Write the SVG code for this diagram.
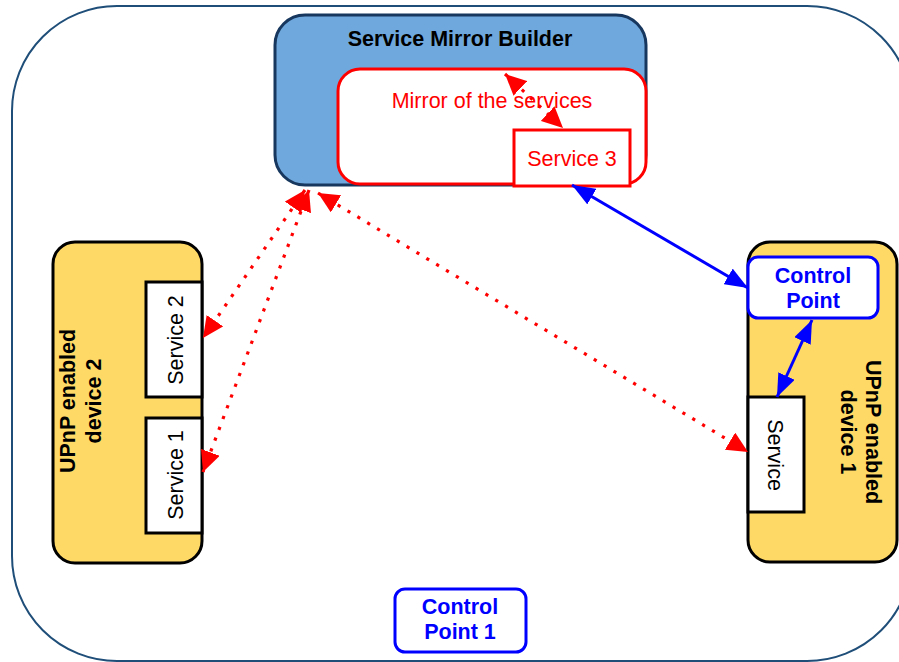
<svg xmlns="http://www.w3.org/2000/svg" width="899" height="662" viewBox="0 0 899 662">
  <style>
    text { font-family: "Liberation Sans", Arial, sans-serif; font-size: 21.5px; }
    .bold { font-weight: bold; }
    .frame { fill: #ffffff; stroke: #1f4e79; stroke-width: 2; }
    .builder { fill: #6fa8dc; stroke: #17375e; stroke-width: 3; }
    .mirror { fill: #ffffff; stroke: #ff0000; stroke-width: 3; }
    .device { fill: #ffd966; stroke: #000000; stroke-width: 3; }
    .svc { fill: #ffffff; stroke: #000000; stroke-width: 3; }
    .cp { fill: #ffffff; stroke: #0000ff; stroke-width: 3; }
    .red-text { fill: #ff0000; }
    .blue-text { fill: #0000ff; }
    .dotted { fill: none; stroke: #ff0000; stroke-width: 3.2; stroke-dasharray: 3.2 8.3; marker-start: url(#redHead); marker-end: url(#redHead); }
    .solid { fill: none; stroke: #0000ff; stroke-width: 3; marker-start: url(#blueHead); marker-end: url(#blueHead); }
  </style>
  <defs>
    <marker id="redHead" markerUnits="userSpaceOnUse" markerWidth="22" markerHeight="20" refX="21" refY="10" orient="auto-start-reverse">
      <path d="M0,0 L21,10 L0,20 z" fill="#ff0000"/>
    </marker>
    <marker id="blueHead" markerUnits="userSpaceOnUse" markerWidth="24" markerHeight="18" refX="23" refY="9" orient="auto-start-reverse">
      <path d="M0,0 L23,9 L0,18 z" fill="#0000ff"/>
    </marker>
  </defs>

  <!-- outer boundary -->
  <rect id="frame" class="frame" x="12" y="6" width="900" height="655" rx="105" ry="105"/>

  <!-- builder with its mirror of services -->
  <g id="service-mirror-builder">
    <rect class="builder" x="275" y="15" width="371" height="170" rx="30" ry="30"/>
    <text class="bold" x="460" y="46" text-anchor="middle">Service Mirror Builder</text>
  </g>
  <g id="mirror-of-services">
    <rect class="mirror" x="338" y="69" width="308" height="115" rx="22" ry="22"/>
    <text class="red-text" x="492" y="108" text-anchor="middle">Mirror of the services</text>
  </g>
  <g id="service-3">
    <rect class="mirror" x="514" y="130" width="116" height="56"/>
    <text class="red-text" x="572" y="166" text-anchor="middle">Service 3</text>
  </g>

  <!-- device 2 -->
  <g id="device-2">
    <rect class="device" x="53" y="242" width="149" height="321" rx="22" ry="22"/>
    <text class="bold" transform="translate(75,401) rotate(-90)" text-anchor="middle">UPnP enabled</text>
    <text class="bold" transform="translate(101,401) rotate(-90)" text-anchor="middle">device 2</text>
  </g>
  <g id="device-2-service-2">
    <rect class="svc" x="146" y="282" width="56" height="115"/>
    <text transform="translate(183,340) rotate(-90)" text-anchor="middle">Service 2</text>
  </g>
  <g id="device-2-service-1">
    <rect class="svc" x="146" y="418" width="56" height="115"/>
    <text transform="translate(183,475) rotate(-90)" text-anchor="middle">Service 1</text>
  </g>

  <!-- device 1 -->
  <g id="device-1">
    <rect class="device" x="748" y="242" width="149" height="320" rx="22" ry="22"/>
    <text class="bold" transform="translate(866,432) rotate(90)" text-anchor="middle">UPnP enabled</text>
    <text class="bold" transform="translate(841,432) rotate(90)" text-anchor="middle">device 1</text>
  </g>
  <g id="device-1-control-point">
    <rect class="cp" x="748" y="257" width="130" height="61" rx="10" ry="10"/>
    <text class="bold blue-text" x="813" y="283" text-anchor="middle">Control</text>
    <text class="bold blue-text" x="813" y="308" text-anchor="middle">Point</text>
  </g>
  <g id="device-1-service">
    <rect class="svc" x="748" y="397" width="56" height="115"/>
    <text transform="translate(768,455) rotate(90)" text-anchor="middle">Service</text>
  </g>

  <!-- standalone control point -->
  <g id="control-point-1">
    <rect class="cp" x="395" y="589" width="131" height="63" rx="10" ry="10"/>
    <text class="bold blue-text" x="460" y="614" text-anchor="middle">Control</text>
    <text class="bold blue-text" x="460" y="639" text-anchor="middle">Point 1</text>
  </g>

  <!-- connectors -->
  <g id="connectors">
    <line class="dotted" x1="505" y1="74" x2="563" y2="128"/>
    <line class="dotted" x1="305" y1="190" x2="203" y2="338"/>
    <line class="dotted" x1="309" y1="190" x2="203" y2="472"/>
    <line class="dotted" x1="318" y1="193" x2="748" y2="452"/>
    <line class="solid" x1="572" y1="185" x2="748" y2="288"/>
    <line class="solid" x1="812" y1="320" x2="777" y2="397"/>
  </g>
</svg>
